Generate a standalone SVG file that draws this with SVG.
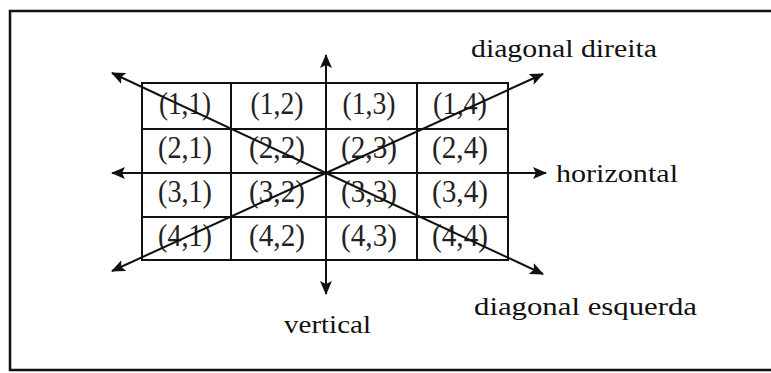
<svg xmlns="http://www.w3.org/2000/svg" width="771" height="373" viewBox="0 0 771 373">
<style>
.frame{fill:none;stroke:#111;stroke-width:2.5}
.grid{fill:none;stroke:#111;stroke-width:2}
.ax{stroke:#111;stroke-width:2;fill:none}
.cell{font-family:"Liberation Serif",serif;font-size:31px;fill:#222;text-anchor:middle}
.lbl{font-family:"Liberation Serif",serif;font-size:26px;fill:#111}
</style>
<defs>
<marker id="ah" markerWidth="14" markerHeight="12" refX="13" refY="6" orient="auto" markerUnits="userSpaceOnUse">
<path d="M0,0 L14,6 L0,12 L3,6 Z" fill="#111"/>
</marker>
</defs>
<rect width="771" height="373" fill="#fff"/>
<path class="frame" d="M775,11 L10,11 L10,370 L775,370"/>
<g id="grid">
<rect class="grid" x="142" y="83" width="366" height="177"/>
<line class="grid" x1="142" y1="129" x2="508" y2="129"/>
<line class="grid" x1="142" y1="217" x2="508" y2="217"/>
<line class="grid" x1="231" y1="83" x2="231" y2="260"/>
<line class="grid" x1="417" y1="83" x2="417" y2="260"/>
</g>
<g id="cells">
<text class="cell" x="185" y="114" textLength="52" lengthAdjust="spacingAndGlyphs">(1,1)</text>
<text class="cell" x="277" y="114" textLength="53" lengthAdjust="spacingAndGlyphs">(1,2)</text>
<text class="cell" x="369" y="114" textLength="53" lengthAdjust="spacingAndGlyphs">(1,3)</text>
<text class="cell" x="460" y="114" textLength="54" lengthAdjust="spacingAndGlyphs">(1,4)</text>
<text class="cell" x="185" y="158" textLength="54" lengthAdjust="spacingAndGlyphs">(2,1)</text>
<text class="cell" x="277" y="158" textLength="56" lengthAdjust="spacingAndGlyphs">(2,2)</text>
<text class="cell" x="369" y="158" textLength="56" lengthAdjust="spacingAndGlyphs">(2,3)</text>
<text class="cell" x="460" y="158" textLength="56" lengthAdjust="spacingAndGlyphs">(2,4)</text>
<text class="cell" x="185" y="202" textLength="54" lengthAdjust="spacingAndGlyphs">(3,1)</text>
<text class="cell" x="277" y="202" textLength="56" lengthAdjust="spacingAndGlyphs">(3,2)</text>
<text class="cell" x="369" y="202" textLength="56" lengthAdjust="spacingAndGlyphs">(3,3)</text>
<text class="cell" x="460" y="202" textLength="56" lengthAdjust="spacingAndGlyphs">(3,4)</text>
<text class="cell" x="185" y="246" textLength="54" lengthAdjust="spacingAndGlyphs">(4,1)</text>
<text class="cell" x="277" y="246" textLength="56" lengthAdjust="spacingAndGlyphs">(4,2)</text>
<text class="cell" x="369" y="246" textLength="56" lengthAdjust="spacingAndGlyphs">(4,3)</text>
<text class="cell" x="460" y="246" textLength="56" lengthAdjust="spacingAndGlyphs">(4,4)</text>
</g>
<g id="connectors">
<line class="ax" x1="326" y1="173" x2="112" y2="173" marker-end="url(#ah)"/>
<line class="ax" x1="326" y1="173" x2="546" y2="173" marker-end="url(#ah)"/>
<line class="ax" x1="326" y1="173" x2="326" y2="55" marker-end="url(#ah)"/>
<line class="ax" x1="326" y1="173" x2="326" y2="294" marker-end="url(#ah)"/>
<line class="ax" x1="326" y1="173" x2="112" y2="73" marker-end="url(#ah)"/>
<line class="ax" x1="326" y1="173" x2="543" y2="274" marker-end="url(#ah)"/>
<line class="ax" x1="326" y1="173" x2="112" y2="271" marker-end="url(#ah)"/>
<line class="ax" x1="326" y1="173" x2="543" y2="74" marker-end="url(#ah)"/>
</g>
<g id="labels">
<text class="lbl" x="471" y="57" textLength="186" lengthAdjust="spacingAndGlyphs">diagonal direita</text>
<text class="lbl" x="556" y="182" textLength="122" lengthAdjust="spacingAndGlyphs">horizontal</text>
<text class="lbl" x="474" y="315" textLength="223" lengthAdjust="spacingAndGlyphs">diagonal esquerda</text>
<text class="lbl" x="284" y="333" textLength="87" lengthAdjust="spacingAndGlyphs">vertical</text>
</g>
</svg>
